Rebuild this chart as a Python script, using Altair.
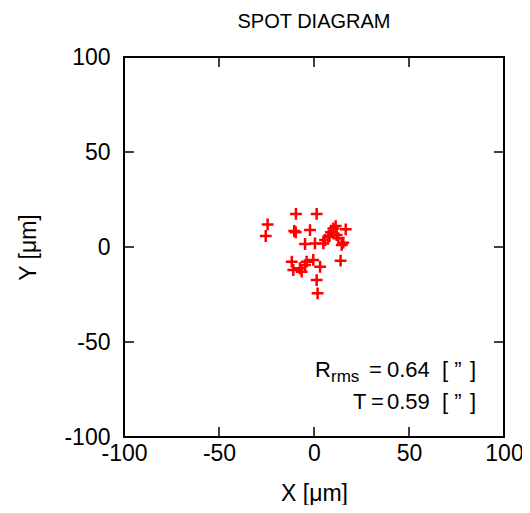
import altair as alt
import pandas as pd

# spot positions in micrometres
xs = [-9.5, 1.4, -24.4, -25.4, -10.4, -9.6, -2.1, 11.4, 16.7, 10.2, 8.9, 7.9,
      12.8, -4.7, 0.5, 4.9, 5.8, 7.5, 14.6, 15.4, 14.0, -11.7, -10.9, -6.5,
      -7.4, -4.7, -3.9, -0.4, 3.2, 1.4, 1.9, 11.9]
ys = [17.4, 17.4, 11.9, 5.8, 8.4, 7.7, 8.9, 11.0, 9.3, 9.8, 7.7, 5.8,
      4.6, 1.6, 1.9, 1.9, 3.7, 5.4, 1.1, 2.3, -7.2, -7.7, -12.1, -13.0,
      -11.2, -9.5, -7.7, -6.8, -10.4, -17.4, -24.4, 6.3]
tick_labels = [-100, -50, 0, 50, 100]
inner_ticks = [-50, 0, 50]
r_rms = "0.64"
t_val_str = "0.59"

FONT = "Liberation Sans"
W = H = 380
TICK = 10
FS = 23

df = pd.DataFrame({"x": xs, "y": ys})
tdf = pd.DataFrame({"t": inner_ticks})

xscale = alt.Scale(domain=[-100, 100], nice=False, zero=False)
yscale = alt.Scale(domain=[-100, 100], nice=False, zero=False)

common = dict(values=tick_labels, tickSize=0, domain=False, grid=False,
              labelFont=FONT, labelFontSize=FS, labelColor="black",
              labelFlush=False, labelOverlap=False,
              labelExpr="toString(datum.value)",
              titleFont=FONT, titleFontSize=FS, titleFontWeight="normal",
              titleColor="black")
xaxis = alt.Axis(labelPadding=5, title="X [μm]", titlePadding=17, **common)
yaxis = alt.Axis(labelPadding=14, title="Y [μm]", titlePadding=23, **common)

plus = "M-1,0L1,0M0,-1L0,1"

points = alt.Chart(df).mark_point(
    shape=plus, color="#ff0000", strokeWidth=2.5, size=140, opacity=1, filled=False
).encode(
    x=alt.X("x:Q", scale=xscale, axis=xaxis),
    y=alt.Y("y:Q", scale=yscale, axis=yaxis),
)

tick_style = dict(color="black", strokeWidth=1.5)
bottom = alt.Chart(tdf).mark_rule(**tick_style).encode(
    x=alt.X("t:Q", scale=xscale, axis=xaxis), y=alt.value(H), y2=alt.value(H - TICK))
top = alt.Chart(tdf).mark_rule(**tick_style).encode(
    x=alt.X("t:Q", scale=xscale, axis=xaxis), y=alt.value(0), y2=alt.value(TICK))
left = alt.Chart(tdf).mark_rule(**tick_style).encode(
    y=alt.Y("t:Q", scale=yscale, axis=yaxis), x=alt.value(0), x2=alt.value(TICK))
right = alt.Chart(tdf).mark_rule(**tick_style).encode(
    y=alt.Y("t:Q", scale=yscale, axis=yaxis), x=alt.value(W), x2=alt.value(W - TICK))

one = pd.DataFrame({"a": [0]})


def label(text, x, y, size=22, align="left"):
    return alt.Chart(one).mark_text(
        text=text, fontSize=size, align=align, font=FONT, color="black",
        baseline="alphabetic").encode(x=alt.value(x), y=alt.value(y))


annot = [
    label("R", 191, 320),
    label("rms", 207, 325, size=17),
    label("=", 245, 320),
    label(r_rms, 263, 320),
    label("[", 318, 320),
    label("”", 334, 320, align="center"),
    label("]", 352, 320, align="right"),
    label("T", 229, 352),
    label("=", 247, 352),
    label(t_val_str, 263, 352),
    label("[", 318, 352),
    label("”", 334, 352, align="center"),
    label("]", 352, 352, align="right"),
]

chart = alt.layer(points, bottom, top, left, right, *annot).properties(
    width=W, height=H,
    title=alt.TitleParams("SPOT DIAGRAM", font=FONT, fontSize=20, fontWeight="normal",
                          color="black", anchor="middle", offset=14),
    autosize=alt.AutoSizeParams(type="none"),
    padding={"left": 116, "top": 49, "right": 18, "bottom": 68},
).configure(background="white").configure_view(stroke="black", strokeWidth=2)

chart.save("out.html", embed_options={"renderer": "svg", "actions": False})
